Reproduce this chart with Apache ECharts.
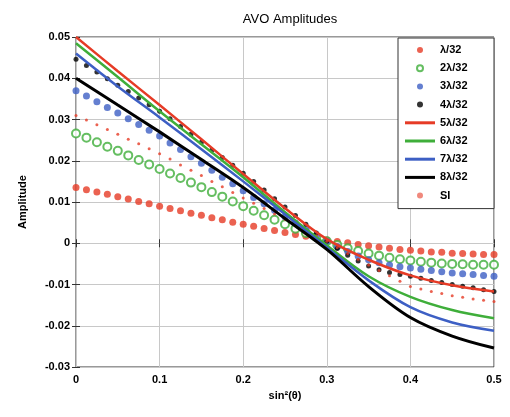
<!DOCTYPE html>
<html>
<head>
<meta charset="utf-8">
<script src="https://cdn.jsdelivr.net/npm/echarts@6/dist/echarts.min.js"></script>
<style>
  html, body { margin: 0; padding: 0; background: #fff; }
  #chart { width: 510px; height: 417px; }
</style>
</head>
<body>
<div id="chart"></div>
<script>
// sin^2(theta) sample positions for the marker series
const xMarks = [0, 0.0125, 0.025, 0.0375, 0.05, 0.0625, 0.075, 0.0875, 0.1, 0.1125,
  0.125, 0.1375, 0.15, 0.1625, 0.175, 0.1875, 0.2, 0.2125, 0.225, 0.2375,
  0.25, 0.2625, 0.275, 0.2875, 0.3, 0.3125, 0.325, 0.3375, 0.35, 0.3625,
  0.375, 0.3875, 0.4, 0.4125, 0.425, 0.4375, 0.45, 0.4625, 0.475, 0.4875, 0.5];
// positions for the solid-line series
const xLines = [0, 0.05, 0.1, 0.15, 0.2, 0.25, 0.3, 0.35, 0.4, 0.45, 0.5];

const w1 = [0.0135, 0.0130, 0.0124, 0.0119, 0.0113, 0.0107, 0.0101, 0.0096, 0.0090, 0.0084,
  0.0079, 0.0073, 0.0068, 0.0062, 0.0057, 0.0051, 0.0046, 0.0041, 0.0036, 0.0031,
  0.0026, 0.0021, 0.0017, 0.0012, 0.0008, 0.0004, 0.0001, -0.0003, -0.0006, -0.0009,
  -0.0012, -0.0015, -0.0017, -0.0019, -0.0021, -0.0022, -0.0024, -0.0025, -0.0026, -0.0027, -0.0027];
const w2 = [0.0266, 0.0256, 0.0245, 0.0234, 0.0224, 0.0213, 0.0202, 0.0191, 0.0180, 0.0169,
  0.0158, 0.0147, 0.0136, 0.0124, 0.0113, 0.0101, 0.0090, 0.0079, 0.0068, 0.0057,
  0.0046, 0.0035, 0.0025, 0.0015, 0.0005, -0.0004, -0.0012, -0.0019, -0.0025, -0.0030,
  -0.0035, -0.0039, -0.0042, -0.0045, -0.0047, -0.0049, -0.0050, -0.0051, -0.0052, -0.0052, -0.0052];
const w3 = [0.0370, 0.0357, 0.0343, 0.0329, 0.0316, 0.0302, 0.0288, 0.0274, 0.0260, 0.0243,
  0.0227, 0.0210, 0.0194, 0.0177, 0.0160, 0.0144, 0.0127, 0.0111, 0.0096, 0.0080,
  0.0064, 0.0049, 0.0034, 0.0019, 0.0005, -0.0008, -0.0020, -0.0031, -0.0040, -0.0047,
  -0.0053, -0.0057, -0.0060, -0.0063, -0.0066, -0.0069, -0.0072, -0.0074, -0.0076, -0.0078, -0.0080];
const w4 = [0.0446, 0.0431, 0.0415, 0.0399, 0.0383, 0.0368, 0.0352, 0.0336, 0.0320, 0.0302,
  0.0283, 0.0264, 0.0245, 0.0226, 0.0208, 0.0189, 0.0170, 0.0150, 0.0129, 0.0108,
  0.0088, 0.0067, 0.0046, 0.0025, 0.0005, -0.0013, -0.0029, -0.0043, -0.0055, -0.0064,
  -0.0071, -0.0076, -0.0080, -0.0085, -0.0090, -0.0095, -0.0100, -0.0104, -0.0108, -0.0113, -0.0117];
const si = [0.0310, 0.0299, 0.0287, 0.0276, 0.0264, 0.0252, 0.0241, 0.0229, 0.0217, 0.0204,
  0.0190, 0.0177, 0.0164, 0.0150, 0.0137, 0.0123, 0.0110, 0.0097, 0.0084, 0.0071,
  0.0058, 0.0044, 0.0031, 0.0018, 0.0005, -0.0010, -0.0025, -0.0039, -0.0053, -0.0066,
  -0.0079, -0.0092, -0.0105, -0.0111, -0.0117, -0.0122, -0.0127, -0.0131, -0.0135, -0.0138, -0.0141];

const w5 = [0.0500, 0.0417, 0.0335, 0.0252, 0.0168, 0.0085, 0.0010, -0.0040, -0.0078, -0.0102, -0.0117];
const w6 = [0.0485, 0.0403, 0.0320, 0.0240, 0.0160, 0.0075, -0.0005, -0.0080, -0.0130, -0.0162, -0.0182];
const w7 = [0.0460, 0.0380, 0.0305, 0.0228, 0.0150, 0.0070, -0.0010, -0.0090, -0.0155, -0.0192, -0.0212];
const w8 = [0.0400, 0.0335, 0.0270, 0.0203, 0.0135, 0.0060, -0.0015, -0.0105, -0.0180, -0.0225, -0.0254];

const names = ['λ/32', '2λ/32', '3λ/32', '4λ/32', '5λ/32', '6λ/32', '7λ/32', '8λ/32', 'SI'];

const RED = '#e63b26', GREEN = '#3fae3a', BLUE = '#3d5fc4', BLACK = '#000';
const font = 'Liberation Sans, Arial, sans-serif';
const LINE_ICON = 'path://M0,0L30,0L30,3L0,3Z';

function pairs(xs, ys) { return xs.map((x, i) => [x, ys[i]]); }

function dots(name, ys, color, size, hollow) {
  return {
    name, type: 'scatter', data: pairs(xMarks, ys), symbolSize: size,
    itemStyle: hollow ? { color: '#fff', borderColor: color, borderWidth: 2 } : { color },
    emphasis: { disabled: true }
  };
}
function line(name, ys, color, width) {
  return {
    name, type: 'line', data: pairs(xLines, ys), smooth: 0.35, symbol: 'none',
    lineStyle: { color, width }, itemStyle: { color }, emphasis: { disabled: true }
  };
}

const legendData = names.map((n, i) => {
  if (i >= 4 && i <= 7) return { name: n, icon: LINE_ICON };
  if (i === 8) return { name: n, icon: 'circle', itemStyle: { opacity: 0.6 } };
  return { name: n, icon: 'circle' };
});

const chart = echarts.init(document.getElementById('chart'));
chart.setOption({
  animation: false,
  title: {
    text: 'AVO Amplitudes', left: 285, top: 8, textAlign: 'center',
    textStyle: { fontFamily: font, fontSize: 13, fontWeight: 'normal', color: '#000' }
  },
  grid: { left: 76, right: 16, top: 37, bottom: 50, show: true, borderColor: '#333', borderWidth: 1 },
  legend: {
    orient: 'vertical', right: 16, top: 38, itemWidth: 30, itemHeight: 6, itemGap: 6.2,
    padding: [6, 18, 7, 7], backgroundColor: '#fff', borderColor: '#333', borderWidth: 1,
    borderRadius: 0,
    textStyle: { fontFamily: font, fontSize: 11, fontWeight: 'bold', color: '#000', width: 36, height: 12, lineHeight: 12 },
    data: legendData
  },
  xAxis: [{
    type: 'value', min: 0, max: 0.5, interval: 0.1,
    name: 'sin²(θ)', nameLocation: 'middle', nameGap: 23,
    nameTextStyle: { fontFamily: font, fontSize: 11, fontWeight: 'bold', color: '#000' },
    axisLine: { show: false },
    axisTick: { inside: true, length: 4, lineStyle: { color: '#333' } },
    splitLine: { lineStyle: { color: '#c8c8c8' } },
    axisLabel: { fontFamily: font, fontSize: 11, fontWeight: 'bold', color: '#000', margin: 7,
      formatter: v => String(Math.round(v * 10) / 10) }
  }, {
    type: 'value', position: 'top', min: 0, max: 0.5, interval: 0.1,
    axisLine: { show: false }, axisLabel: { show: false }, splitLine: { show: false },
    axisTick: { inside: true, length: 4, lineStyle: { color: '#333' } }
  }],
  yAxis: [{
    type: 'value', min: -0.03, max: 0.05, interval: 0.01,
    name: 'Amplitude', nameLocation: 'middle', nameGap: 48,
    nameTextStyle: { fontFamily: font, fontSize: 11, fontWeight: 'bold', color: '#000' },
    axisLine: { show: false },
    axisTick: { inside: true, length: 4, lineStyle: { color: '#333' } },
    splitLine: { lineStyle: { color: '#c8c8c8' } },
    axisLabel: { fontFamily: font, fontSize: 11, fontWeight: 'bold', color: '#000', margin: 6,
      formatter: v => String(Math.round(v * 100) / 100) }
  }, {
    type: 'value', position: 'right', min: -0.03, max: 0.05, interval: 0.01,
    axisLine: { show: false }, axisLabel: { show: false }, splitLine: { show: false },
    axisTick: { inside: true, length: 4, lineStyle: { color: '#333' } }
  }],
  series: [
    dots(names[0], w1, RED, 7, false),
    dots(names[1], w2, GREEN, 8, true),
    dots(names[2], w3, BLUE, 7, false),
    dots(names[3], w4, BLACK, 5, false),
    line(names[4], w5, RED, 2.5),
    line(names[5], w6, GREEN, 2.5),
    line(names[6], w7, BLUE, 2.5),
    line(names[7], w8, BLACK, 3),
    dots(names[8], si, RED, 3, false)
  ]
});
</script>
</body>
</html>
